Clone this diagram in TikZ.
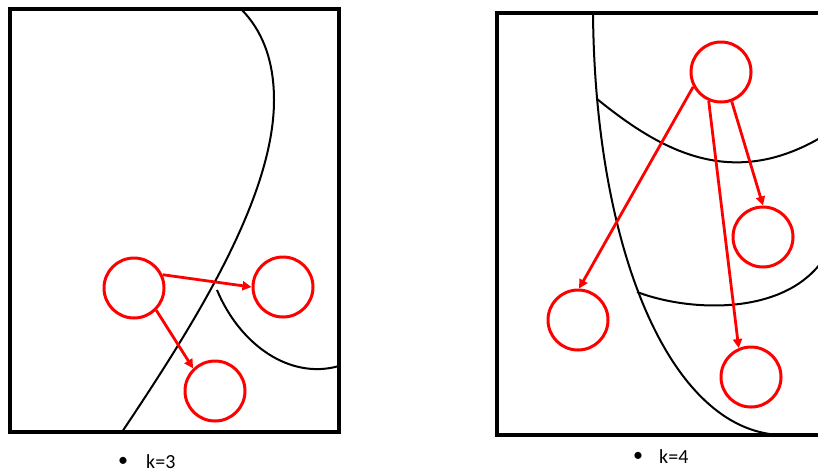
\documentclass[tikz,border=0pt]{standalone}
\usepackage{fontspec}
\setmainfont{Carlito}
\usetikzlibrary{arrows.meta}
\begin{document}
\begin{tikzpicture}[x=1pt,y=-1pt,
  frame/.style={draw=black,line width=3.5pt},
  bound/.style={draw=black,line width=2pt},
  ball/.style={circle,draw=red,line width=3pt,minimum size=60pt,inner sep=0pt},
  link/.style={draw=red,line width=2.8pt,-{Triangle[length=9pt,width=9pt]}},
  lbl/.style={font=\fontsize{20pt}{22pt}\selectfont,inner sep=0pt}]
\useasboundingbox (0,0) rectangle (818,475);
\clip (0,0) rectangle (818,475);
% left panel
\draw[frame] (10,9) rectangle (339,432);
\draw[bound] (241,9) .. controls (262,30) and (274,60) .. (274,100)
  .. controls (274,200) and (190,330) .. (122,432);
\draw[bound] (217,290) .. controls (240,345) and (290,380) .. (339,366);
\node[ball] (a) at (134,288) {};
\node[ball] (b) at (283,287) {};
\node[ball] (c) at (215,391) {};
\draw[link] (a.25) -- (b.180);
\draw[link] (a.-45) -- (c.134);
\node[lbl] (bul1) at (123,462) {•};
\node[lbl,anchor=west] (k3) at (146,462) {k=3};
% right panel
\draw[frame] (497,13) rectangle (840,435);
\draw[bound] (593,13) .. controls (595,250) and (670,430) .. (780,435);
\draw[bound] (597,99) .. controls (660,150) and (730,190) .. (820,138);
\draw[bound] (637,292) .. controls (690,312) and (780,315) .. (820,264);
\node[ball] (d) at (721,72) {};
\node[ball] (e) at (763,237) {};
\node[ball] (f) at (578,320) {};
\node[ball] (g) at (751,377) {};
\draw[link] (d.208) -- (f.88);
\draw[link] (d.-70) -- (e.90);
\draw[link] (d.-113) -- (g.113);
\node[lbl] (bul2) at (638,457) {•};
\node[lbl,anchor=west] (k4) at (659,457) {k=4};
\end{tikzpicture}
\end{document}
